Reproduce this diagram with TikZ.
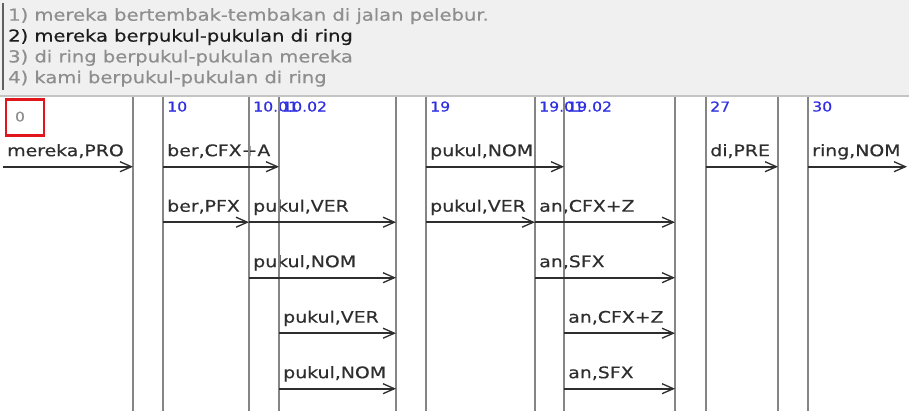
\documentclass[tikz,border=0pt]{standalone}
\usepackage{fontspec}
\setmainfont{DejaVu Sans}[FakeStretch=1.18,FakeBold=0.45]
\newfontfamily\idfont{DejaVu Sans}[FakeStretch=1.15,FakeBold=0.3]
\usetikzlibrary{arrows.meta,calc}
\definecolor{panelbg}{HTML}{F0F0F0}
\definecolor{sepline}{HTML}{C4C4C4}
\definecolor{dimtext}{HTML}{8E8E8E}
\definecolor{darktext}{HTML}{1C1C1C}
\definecolor{lbltext}{HTML}{2E2E2E}
\definecolor{idblue}{HTML}{3030E0}
\definecolor{colline}{HTML}{858585}
\definecolor{arrline}{HTML}{2E2E2E}
\definecolor{boxred}{HTML}{E0161B}
\begin{document}
\begin{tikzpicture}[x=0.75pt,y=-0.75pt,
  sent/.style={anchor=base west,inner sep=0pt,font=\fontsize{12.4}{14}\selectfont},
  lbl/.style={anchor=base west,inner sep=0pt,text=lbltext,font=\fontsize{12}{14}\selectfont},
  idlbl/.style={anchor=base west,inner sep=0pt,text=idblue,font=\idfont\fontsize{10.2}{12}\selectfont},
  colsep/.style={draw=colline,line width=1.6pt},
  arr/.style={draw=arrline,line width=1.2pt,-{Straight Barb[length=8.5pt,width=7.5pt,line width=1pt]}}]
\useasboundingbox (0,0) rectangle (909,411);
% top panel
\fill[panelbg] (0,0) rectangle (909,95);
\begin{scope}
\clip (0,0) rectangle (909,90);
\node[sent,text=dimtext] (s1) at (8,20.7) {1) mereka bertembak-tembakan di jalan pelebur.};
\node[sent,text=darktext] (s2) at (8,41.6) {2) mereka berpukul-pukulan di ring};
\node[sent,text=dimtext] (s3) at (8,62.4) {3) di ring berpukul-pukulan mereka};
\node[sent,text=dimtext] (s4) at (8,83.2) {4) kami berpukul-pukulan di ring};
\end{scope}
\draw[draw=darktext!70,line width=1.2pt] (3,3) -- (3,90);
\draw[sepline,line width=1.5pt] (0,96) -- (909,96);
% column coordinates
\coordinate (x0) at (3,0);
\coordinate (x1) at (133,0);
\coordinate (x2) at (163,0);
\coordinate (x3) at (249,0);
\coordinate (x4) at (279,0);
\coordinate (x5) at (396,0);
\coordinate (x6) at (426,0);
\coordinate (x7) at (535,0);
\coordinate (x8) at (564,0);
\coordinate (x9) at (675,0);
\coordinate (x10) at (706,0);
\coordinate (x11) at (778,0);
\coordinate (x12) at (808,0);
\coordinate (xe) at (907,0);
\coordinate (top) at (0,97);
\coordinate (bot) at (0,411);
\coordinate (r1) at (0,166.7);
\coordinate (r2) at (0,222.2);
\coordinate (r3) at (0,277.7);
\coordinate (r4) at (0,333.2);
\coordinate (r5) at (0,388.7);
% red box with 0
\node[draw=boxred,line width=2.2pt,minimum width=28.5pt,minimum height=27pt,inner sep=0pt,anchor=north west] (zero) at (4.5,98) {};
\node[text=dimtext,font=\idfont\fontsize{10}{11}\selectfont,anchor=base] (zerot) at (20,121.5) {0};
% ids
\node[idlbl] (i10) at ($(x2|-top)+(4,14.5)$) {10};
\node[idlbl] (i1001) at ($(x3|-top)+(4,14.5)$) {10.01};
\node[idlbl] (i1002) at ($(x4|-top)+(3,14.5)$) {10.02};
\node[idlbl] (i19) at ($(x6|-top)+(4,14.5)$) {19};
\node[idlbl] (i1901) at ($(x7|-top)+(4,14.5)$) {19.01};
\node[idlbl] (i1902) at ($(x8|-top)+(3,14.5)$) {19.02};
\node[idlbl] (i27) at ($(x10|-top)+(4,14.5)$) {27};
\node[idlbl] (i30) at ($(x12|-top)+(4,14.5)$) {30};
% labels
\node[lbl] (l1a) at ($(x0|-r1)+(4,-10.5)$) {mereka,PRO};
\node[lbl] (l1b) at ($(x2|-r1)+(4,-10.5)$) {ber,CFX+A};
\node[lbl] (l1c) at ($(x6|-r1)+(4,-10.5)$) {pukul,NOM};
\node[lbl] (l1d) at ($(x10|-r1)+(4,-10.5)$) {di,PRE};
\node[lbl] (l1e) at ($(x12|-r1)+(4,-10.5)$) {ring,NOM};
\node[lbl] (l2a) at ($(x2|-r2)+(4,-10.5)$) {ber,PFX};
\node[lbl] (l2b) at ($(x3|-r2)+(4,-10.5)$) {pukul,VER};
\node[lbl] (l2c) at ($(x6|-r2)+(4,-10.5)$) {pukul,VER};
\node[lbl] (l2d) at ($(x7|-r2)+(4,-10.5)$) {an,CFX+Z};
\node[lbl] (l3a) at ($(x3|-r3)+(4,-10.5)$) {pukul,NOM};
\node[lbl] (l3b) at ($(x7|-r3)+(4,-10.5)$) {an,SFX};
\node[lbl] (l4a) at ($(x4|-r4)+(4,-10.5)$) {pukul,VER};
\node[lbl] (l4b) at ($(x8|-r4)+(4,-10.5)$) {an,CFX+Z};
\node[lbl] (l5a) at ($(x4|-r5)+(4,-10.5)$) {pukul,NOM};
\node[lbl] (l5b) at ($(x8|-r5)+(4,-10.5)$) {an,SFX};
% column separators
\foreach \c in {x1,x2,x3,x4,x5,x6,x7,x8,x9,x10,x11,x12}
  \draw[colsep] (\c|-top) -- (\c|-bot);
% arrows
\draw[arr] (x0|-r1) -- (x1|-r1);
\draw[arr] (x2|-r1) -- (x4|-r1);
\draw[arr] (x6|-r1) -- (x8|-r1);
\draw[arr] (x10|-r1) -- (x11|-r1);
\draw[arr] (x12|-r1) -- (xe|-r1);
\draw[arr] (x2|-r2) -- (x3|-r2);
\draw[arr] (x3|-r2) -- (x5|-r2);
\draw[arr] (x6|-r2) -- (x7|-r2);
\draw[arr] (x7|-r2) -- (x9|-r2);
\draw[arr] (x3|-r3) -- (x5|-r3);
\draw[arr] (x7|-r3) -- (x9|-r3);
\draw[arr] (x4|-r4) -- (x5|-r4);
\draw[arr] (x8|-r4) -- (x9|-r4);
\draw[arr] (x4|-r5) -- (x5|-r5);
\draw[arr] (x8|-r5) -- (x9|-r5);
\end{tikzpicture}
\end{document}
